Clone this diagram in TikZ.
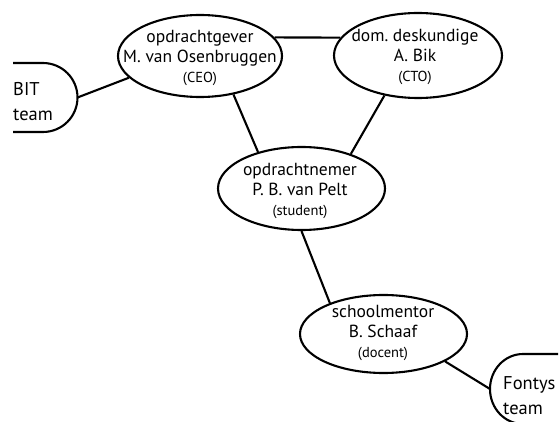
\documentclass[tikz,border=0pt]{standalone}
\usepackage{fontspec}
\setmainfont{PT Sans}
\usetikzlibrary{shapes.geometric}
\newcommand\rolefont{\fontsize{14.5}{17}\selectfont}
\frenchspacing
\begin{document}
\begin{tikzpicture}[x=1pt,y=-1pt,
  party/.style={draw, ellipse, line width=2.1pt, inner sep=0pt},
  nametext/.style={align=center, font=\fontsize{17.5}{20}\selectfont, inner sep=0pt},
  teamtext/.style={align=left, font=\fontsize{18.5}{25}\selectfont, inner sep=0pt, anchor=west},
  link/.style={line width=2.1pt},
  teamedge/.style={line width=2.1pt}]
\useasboundingbox (0,0) rectangle (560,422);

% the four people
\node[party, minimum width=164pt, minimum height=82pt] (e1) at (200,56) {};
\node[party, minimum width=168pt, minimum height=85pt] (e2) at (418,55.5) {};
\node[party, minimum width=167pt, minimum height=83pt] (e3) at (301.5,188.5) {};
\node[party, minimum width=167pt, minimum height=78pt] (e4) at (383.5,334) {};

\node[nametext] (t1) at (200,58) {opdrachtgever\\M. van Osenbruggen\\{\rolefont (CEO)}};
\node[nametext] (t2) at (415,57) {dom. deskundige\\A. Bik\\{\rolefont (CTO)}};
\node[nametext] (t3) at (300,191) {opdrachtnemer\\P. B. van Pelt\\{\rolefont (student)}};
\node[nametext] (t4) at (383,333) {schoolmentor\\B. Schaaf\\{\rolefont (docent)}};

% team tabs at the edges
\draw[teamedge] (13,63) -- (43,63) arc[start angle=-90, end angle=90, radius=34.5] -- (13,132);
\coordinate (bit) at (77.5,97.5);
\node[teamtext] (bitlabel) at (13,102) {BIT\\team};

\draw[teamedge] (558,354) -- (523,354) arc[start angle=-90, end angle=-270, x radius=33, y radius=35] -- (558,424);
\coordinate (fontys) at (490,389);
\node[teamtext] (fontyslabel) at (503,396) {Fontys\\team};

% relations
\draw[link] (e1.14) -- (e2.167);
\draw[link] (e1.-49) -- (e3.140.6);
\draw[link] (e2.-130.7) -- (e3.35.6);
\draw[link] (e3.-90) -- (e4.150.7);
\draw[link] (e4.-24.5) -- (fontys);
\draw[link] (bit) -- (e1.-163.7);
\end{tikzpicture}
\end{document}
